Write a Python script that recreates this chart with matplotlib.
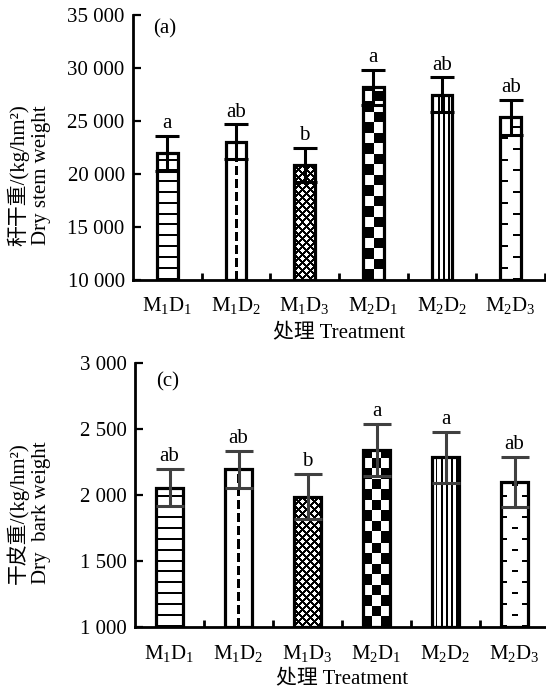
import numpy as np
import matplotlib
matplotlib.use('Agg')
import matplotlib.pyplot as plt

plt.rcParams['font.family'] = ['Liberation Serif', 'Noto Sans CJK SC']
plt.rcParams['mathtext.fontset'] = 'custom'
plt.rcParams['mathtext.rm'] = 'Liberation Serif'
plt.rcParams['font.size'] = 15

# ---- data ----
treatments = [r'$\mathrm{M_1D_1}$', r'$\mathrm{M_1D_2}$', r'$\mathrm{M_1D_3}$',
              r'$\mathrm{M_2D_1}$', r'$\mathrm{M_2D_2}$', r'$\mathrm{M_2D_3}$']

stem_mean = [21950, 23050, 20850, 28180, 27490, 25350]
stem_err = [1650, 1640, 1630, 1630, 1630, 1630]
stem_letters = ['a', 'ab', 'b', 'a', 'ab', 'ab']

bark_mean = [2058, 2197, 1989, 2343, 2288, 2103]
bark_err = [140, 140, 172, 198, 192, 188]
bark_letters = ['ab', 'ab', 'b', 'a', 'a', 'ab']

stem_fill = ['hlines', 'vdash', 'cross', 'checker', 'vlines', 'edgedash']
bark_fill = ['hlines', 'vdash', 'cross', 'checker', 'vlines', 'middash']


def texture(kind, w, h):
    """black/white pixel pattern for one bar, w x h pixels, row 0 at bottom"""
    r, c = np.mgrid[0:h, 0:w].astype(float)
    if kind == 'hlines':
        m = (r % 10.8) < 2
    elif kind == 'vdash':
        m = (np.abs(c - (w - 1) / 2) < 1.6) & ((r % 13) < 8.5)
    elif kind == 'cross':
        m = ((r + c) % 8 < 2.5) | ((r - c) % 8 < 2.5)
    elif kind == 'checker':
        n = max(1, round(w / 9.5))
        cw = w / n
        m = ((r // 10.5 + c // cw) % 2) == 0
    elif kind == 'vlines':
        m = ((c - w / 2) % 5.2) < 1.8
    elif kind == 'edgedash':
        ph = r % 21.6
        m = (((ph < 2) & (c >= w - 8)) |
             ((ph >= 10.8) & (ph < 12.8) & (c < 8)))
    else:  # middash
        ph = r % 21.6
        m = (((ph < 2) & ((c < 6) | (c >= w - 6))) |
             ((ph >= 10.8) & (ph < 12.8) & (np.abs(c - w / 2) < 3.5)))
    return m.astype(float)


def draw_panel(ax, means, errs, letters, fills, ylim, step, width,
               err_color, capsize, tag, tag_y, xlabel_pad):
    x = np.arange(len(treatments))
    lo, hi = ylim
    ax.set_xlim(-0.5, len(x) - 0.5)
    ax.set_ylim(lo, hi)
    heights = np.array(means) - lo

    ax.bar(x, heights, width, bottom=lo, color='white', edgecolor='none',
           zorder=1)
    for xi, m, kind in zip(x, means, fills):
        (x0, y0), (x1, y1) = ax.transData.transform(
            [(xi - width / 2, lo), (xi + width / 2, m)])
        tex = texture(kind, int(round(x1 - x0)), int(round(y1 - y0)))
        ax.imshow(tex, extent=(xi - width / 2, xi + width / 2, lo, m),
                  origin='lower', cmap='gray_r', vmin=0, vmax=1,
                  interpolation='nearest', aspect='auto', zorder=2)
    ax.bar(x, heights, width, bottom=lo, fill=False, edgecolor='black',
           linewidth=2.3, zorder=3)
    ax.errorbar(x, means, yerr=errs, fmt='none', ecolor=err_color,
                elinewidth=2.2, capsize=capsize, capthick=2.2, zorder=4)

    for xi, m, e, lab in zip(x, means, errs, letters):
        ax.annotate(lab, (xi, m + e), xytext=(0, 2),
                    textcoords='offset points', ha='center', va='bottom')

    ax.set_xlim(-0.5, len(x) - 0.5)
    ax.set_ylim(lo, hi)
    ax.set_aspect('auto')

    # axes / ticks
    for side in ['top', 'right']:
        ax.spines[side].set_visible(False)
    for side in ['left', 'bottom']:
        ax.spines[side].set_linewidth(2)
    ax.set_xticks(x)
    ax.set_xticklabels(treatments)
    ax.set_xticks(np.arange(0.5, len(x)), minor=True)
    ax.tick_params(axis='x', which='major', length=0, pad=11)
    ax.tick_params(axis='x', which='minor', direction='in', length=5,
                   width=2)
    yt = np.arange(lo, hi + 1, step)
    ax.set_yticks(yt)
    ax.set_yticklabels([f'{v:,.0f}'.replace(',', ' ') for v in yt])
    ax.tick_params(axis='y', direction='in', length=6, width=1.6, pad=6)

    ax.set_xlabel('处理 Treatment', labelpad=xlabel_pad)
    ax.text(0.05, tag_y, tag, transform=ax.transAxes, ha='left',
            va='center')


fig = plt.figure(figsize=(5.46, 6.91))

ax1 = fig.add_axes([133 / 546, 1 - 280 / 691, 412 / 546, 265 / 691])
draw_panel(ax1, stem_mean, stem_err, stem_letters, stem_fill,
           (10000, 35000), 5000, 0.30, 'black', 8.6, '(a)', 0.947, 6)
fig.text(29 / 546, 1 - 175 / 691, '秆干重/(kg/hm²)\nDry stem weight',
         rotation=90, ha='center', va='center', multialignment='center')

ax2 = fig.add_axes([135 / 546, 1 - 627.3 / 691, 414 / 546, 264 / 691])
draw_panel(ax2, bark_mean, bark_err, bark_letters, bark_fill,
           (1000, 3000), 500, 0.385, '#404040', 10, '(c)', 0.928, 5)
fig.text(29 / 546, 1 - 513 / 691, '干皮重/(kg/hm²)\nDry  bark weight',
         rotation=90, ha='center', va='center', multialignment='center')

fig.savefig('out.png', dpi=100)
